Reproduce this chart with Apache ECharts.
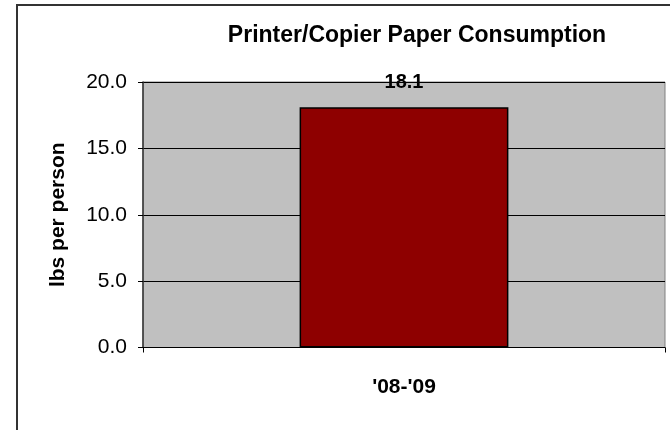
<!DOCTYPE html>
<html>
<head>
<meta charset="utf-8">
<script src="https://cdn.jsdelivr.net/npm/echarts@6/dist/echarts.min.js"></script>
<style>
html,body{margin:0;padding:0;background:#fff;}
#chart{width:670px;height:430px;}
</style>
</head>
<body>
<div id="chart"></div>
<script>
var titleText = "Printer/Copier Paper Consumption";
var categories = ["'08-'09"];
var values = [18.1];
var yAxisName = "lbs per person";
var yMin = 0, yMax = 20, yInterval = 5;

var chart = echarts.init(document.getElementById('chart'), null, {renderer: 'canvas'});
var font = 'Liberation Sans, Arial, sans-serif';
chart.setOption({
  animation: false,
  backgroundColor: '#ffffff',
  title: {
    text: titleText,
    left: 412, top: 19,
    textAlign: 'center',
    textStyle: {fontFamily: font, fontSize: 23, fontWeight: 'bold', color: '#000'}
  },
  graphic: [{
    type: 'rect',
    shape: {x: 17, y: 5, width: 700, height: 500},
    style: {fill: 'none', stroke: '#333', lineWidth: 2},
    silent: true
  }],
  grid: {
    left: 143, top: 82, right: 5, bottom: 82.5,
    show: true, backgroundColor: '#C0C0C0', borderColor: '#808080', borderWidth: 1
  },
  xAxis: {
    type: 'category',
    data: categories,
    axisLine: {show: true, lineStyle: {color: '#000', width: 1}},
    axisTick: {show: true, length: 5, lineStyle: {color: '#000'}},
    axisLabel: {margin: 29, fontFamily: font, fontSize: 21, fontWeight: 'bold', color: '#000'}
  },
  yAxis: {
    type: 'value',
    min: yMin, max: yMax, interval: yInterval,
    name: yAxisName,
    nameLocation: 'middle',
    nameGap: 74,
    nameTextStyle: {fontFamily: font, fontSize: 21, fontWeight: 'bold', color: '#000'},
    axisLine: {show: true, lineStyle: {color: '#333', width: 1.5}},
    axisTick: {show: true, length: 5, lineStyle: {color: '#000'}},
    splitLine: {show: true, lineStyle: {color: '#000', width: 1}},
    axisLabel: {margin: 16, fontFamily: font, fontSize: 21, color: '#000',
      formatter: function(v){ return v.toFixed(1); }}
  },
  series: [{
    type: 'bar',
    data: values,
    barWidth: '40%',
    itemStyle: {color: '#8E0000', borderColor: '#000', borderWidth: 1.5},
    label: {
      show: true, position: 'top', distance: 15,
      fontFamily: font, fontSize: 20, fontWeight: 'bold', color: '#000',
      formatter: function(p){ return p.value.toFixed(1); }
    }
  }]
});
</script>
</body>
</html>
